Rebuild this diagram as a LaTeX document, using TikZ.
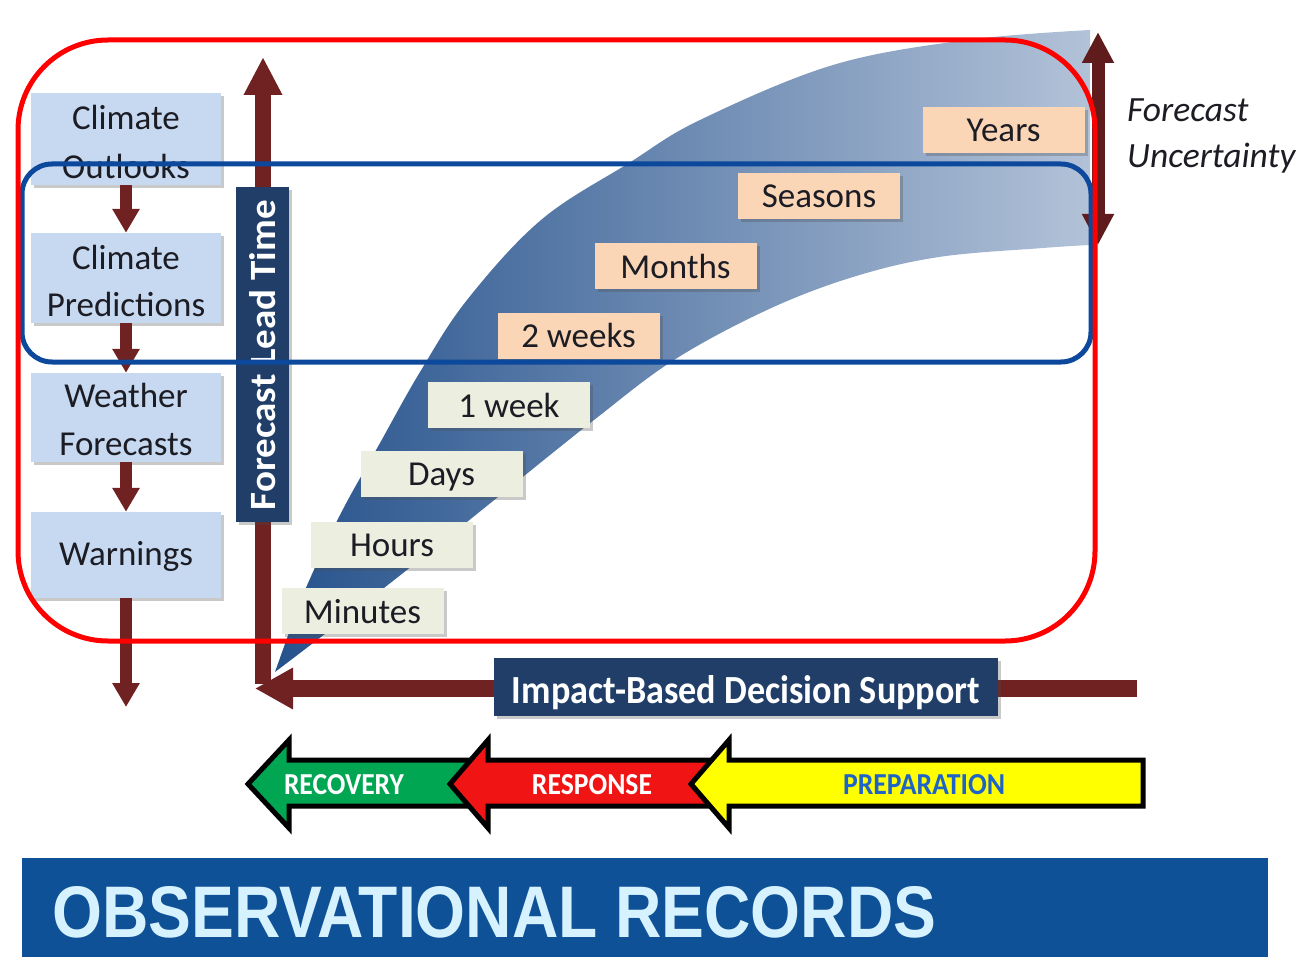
\documentclass[tikz,border=0pt]{standalone}
\usepackage{fontspec}
\setmainfont{Carlito}
\newfontfamily\arialfont{Liberation Sans}
\usetikzlibrary{arrows.meta,shadows}
\definecolor{axisred}{RGB}{112,34,34}
\definecolor{uncred}{RGB}{96,28,28}
\definecolor{navy}{RGB}{32,62,104}
\definecolor{lboxc}{RGB}{198,217,240}
\definecolor{peach}{RGB}{251,214,182}
\definecolor{cream}{RGB}{236,239,224}
\definecolor{bandA}{RGB}{38,82,140}
\definecolor{bandB}{RGB}{110,156,216}
\definecolor{bandC}{RGB}{178,194,216}
\definecolor{redline}{RGB}{255,0,0}
\definecolor{blueline}{RGB}{12,72,155}
\definecolor{obsblue}{RGB}{14,81,150}
\definecolor{obstext}{RGB}{215,242,255}
\definecolor{arrgreen}{RGB}{0,166,81}
\definecolor{arrred}{RGB}{240,20,20}
\definecolor{arryellow}{RGB}{255,255,0}
\definecolor{prepblue}{RGB}{30,100,200}
\definecolor{textc}{RGB}{28,28,36}
\begin{document}
\begin{tikzpicture}[x=1pt,y=-1pt,
  softshadow/.style={drop shadow={shadow xshift=3pt,shadow yshift=-3pt,opacity=0.3,fill=black!70}},
  lbox/.style={fill=lboxc, minimum width=190pt, inner sep=0pt, softshadow},
  ltext/.style={font=\fontsize{35}{42}\selectfont, text=textc, anchor=base, inner sep=0pt},
  tbox/.style={minimum width=162pt, minimum height=46pt, inner sep=0pt, text height=24pt, text depth=0pt,
               font=\fontsize{35}{42}\selectfont, text=textc, softshadow},
  conn/.style={draw=axisred, line width=12pt, -{Triangle[length=24pt,width=26pt]}},
  navybox/.style={fill=navy, inner sep=0pt, softshadow},
  barrow/.style={draw=black, line width=5pt, line join=miter},
  btext/.style={anchor=base, inner sep=0pt, text=white}
]
\useasboundingbox (0,0) rectangle (1311,957);

% forecast band
\shade[left color=bandA, middle color=bandB, right color=bandC]
  plot[smooth, tension=0.6] coordinates {(275,672) (290,630) (305,590) (340,515) (380,443) (420,372) (467,300) (541,220) (629,163) (700,120) (833,65) (967,40) (1090,30)}
  -- plot[smooth, tension=0.6] coordinates {(1090,245) (1043,248) (939,257) (853,277) (767,310) (674,360) (594,420) (498,497) (417,562) (330,630) (275,672)}
  -- cycle;

% axes
\coordinate (vb) at (263,684);
\coordinate (vt) at (263,57);
\coordinate (hr) at (1137,688.5);
\coordinate (hl) at (255,688.5);
\draw[draw=axisred, line width=16pt, -{Triangle[length=38pt,width=36pt]}] (vb) -- (vt);
\draw[draw=axisred, line width=17pt, -{Triangle[length=38pt,width=39pt]}] (hr) -- (hl);

% axis label boxes
\node[navybox, minimum width=53pt, minimum height=335pt] (lt) at (262.5,354.5) {};
\node[rotate=90, inner sep=0pt, text=white] (ltt) at (263,355) {\resizebox{310pt}{26pt}{\bfseries Forecast Lead Time}};
\node[navybox, minimum width=504pt, minimum height=58pt] (ib) at (746,687) {};
\node[inner sep=0pt, text=white, anchor=base] (ibt) at (746,703) {\resizebox{468pt}{28pt}{\bfseries Impact-Based Decision Support}};

% time labels
\node[tbox, fill=peach] (years) at (1003.5,130) {Years};
\node[tbox, fill=peach] (seasons) at (819,196) {Seasons};
\node[tbox, fill=peach] (months) at (675.5,266.5) {Months};
\node[tbox, fill=peach] (twoweeks) at (578.5,336) {2 weeks};
\node[tbox, fill=cream] (oneweek) at (509,405) {1 week};
\node[tbox, fill=cream] (days) at (441.5,473.5) {Days};
\node[tbox, fill=cream] (hours) at (392,544.5) {Hours};
\node[tbox, fill=cream] (minutes) at (362.5,611) {Minutes};

% left product boxes
\node[lbox, minimum height=92pt] (co) at (126,139) {};
\node[lbox, minimum height=90pt] (cp) at (126,278) {};
\node[lbox, minimum height=89pt] (wf) at (126,417.5) {};
\node[lbox, minimum height=86pt] (wa) at (126,555) {};
\node[ltext] (co1) at (126,130) {Climate};
\node[ltext] (co2) at (126,179) {Outlooks};
\node[ltext] (cp1) at (126,270) {Climate};
\node[ltext] (cp2) at (126,317) {Predictions};
\node[ltext] (wf1) at (126,407) {Weather};
\node[ltext] (wf2) at (126,455) {Forecasts};
\node[ltext] (wa1) at (126,565) {Warnings};
\coordinate (wend) at (126,707);
\draw[conn] (co.south) -- (cp.north);
\draw[conn] (cp.south) -- (wf.north);
\draw[conn] (wf.south) -- (wa.north);
\draw[conn] (wa.south) -- (wend);

% forecast uncertainty
\coordinate (ut) at (1098,32);
\coordinate (ub) at (1098,245);
\draw[draw=uncred, line width=13pt, {Triangle[length=31pt,width=30pt]}-{Triangle[length=31pt,width=30pt]}] (ub) -- (ut);
\node[anchor=base west, inner sep=0pt, text=textc, font=\itshape\fontsize{35.5}{42}\selectfont] (fu1) at (1127,122) {Forecast};
\node[anchor=base west, inner sep=0pt, text=textc, font=\itshape\fontsize{35.5}{42}\selectfont] (fu2) at (1127,168) {Uncertainty};

% phase arrows
\draw[barrow, fill=arrgreen] (248,784) -- (289,740) -- (289,760) -- (480,760) -- (480,806) -- (289,806) -- (289,828) -- cycle;
\draw[barrow, fill=arrred] (450,784) -- (488,740) -- (488,760) -- (720,760) -- (720,806) -- (488,806) -- (488,828) -- cycle;
\draw[barrow, fill=arryellow] (691,784) -- (729,740) -- (729,760) -- (1143,760) -- (1143,806) -- (729,806) -- (729,828) -- cycle;
\node[btext] (rec) at (344,794) {\resizebox{120pt}{20pt}{\bfseries RECOVERY}};
\node[btext] (res) at (592,794) {\resizebox{120pt}{20pt}{\bfseries RESPONSE}};
\node[btext, text=prepblue] (prep) at (924,794) {\resizebox{162pt}{20pt}{\bfseries PREPARATION}};

% observational records band
\fill[obsblue] (22,858) rectangle (1268,957);
\node[anchor=base west, inner sep=0pt, text=obstext] (obs) at (52,937) {\resizebox{884pt}{51pt}{\arialfont\bfseries OBSERVATIONAL RECORDS}};

% highlight frames
\draw[blueline, line width=5pt, rounded corners=30pt] (22,164) rectangle (1091,362);
\draw[redline, line width=5pt, rounded corners=90pt] (18,40) rectangle (1095,641);
\end{tikzpicture}
\end{document}
